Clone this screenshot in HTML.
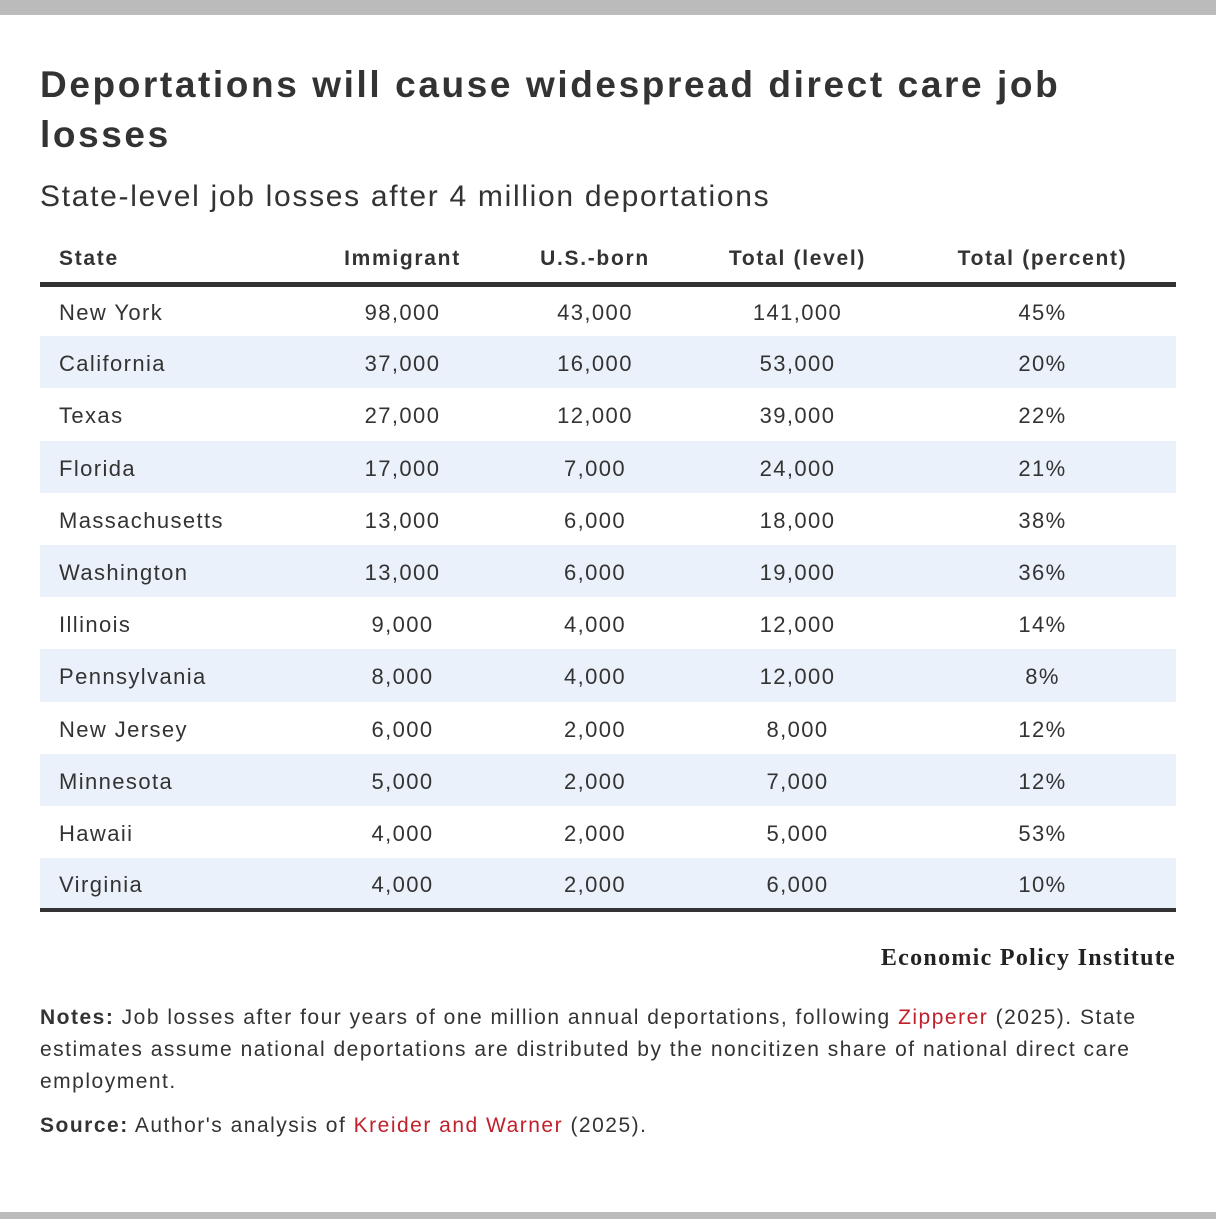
<!DOCTYPE html>
<html><head><meta charset="utf-8"><style>
*{margin:0;padding:0;box-sizing:border-box}
body{width:1216px;height:1219px;background:#fff;position:relative;font-family:"Liberation Sans",sans-serif;color:#333;overflow:hidden}
.bar{position:absolute;left:0;width:1216px;background:#bbb}
.t{position:absolute;left:40px;font-weight:bold;font-size:37px;line-height:50px;color:#333;width:1150px;letter-spacing:2.6px}
.sub{position:absolute;left:40px;top:178px;font-size:30px;line-height:38px;letter-spacing:1.7px}
table{position:absolute;left:40px;top:236px;width:1136px;border-collapse:collapse;font-size:22px;letter-spacing:1.4px}
th{font-weight:bold;height:48px;border-bottom:5px solid #333;font-size:21px;letter-spacing:1.7px;padding-top:1px}
td{height:52.2px;padding-top:4px!important}
th,td{text-align:center;padding:0}
th:last-child,td:last-child{padding-right:26px}
th:first-child,td:first-child{text-align:left;padding-left:19px}
tr.s td{background:#eaf1fa}
tbody tr:last-child td{border-bottom:4px solid #333}
.epi{position:absolute;right:40px;top:945px;font-family:"Liberation Serif",serif;font-weight:bold;font-size:24px;color:#222;letter-spacing:1.3px}
.n{position:absolute;left:40px;width:1176px;font-size:21px;line-height:32px;white-space:nowrap;letter-spacing:1.5px}
.r{color:#c0202a}
</style></head><body>
<div class="bar" style="top:0;height:15px"></div>
<div class="bar" style="top:1212px;height:7px"></div>
<div class="t" style="top:60px">Deportations will cause widespread direct care job<br>losses</div>
<div class="sub">State-level job losses after 4 million deportations</div>
<table>
<thead><tr><th style="width:235px">State</th><th style="width:255px">Immigrant</th><th style="width:130px">U.S.-born</th><th style="width:275px">Total (level)</th><th>Total (percent)</th></tr></thead>
<tbody>
<tr><td>New York</td><td>98,000</td><td>43,000</td><td>141,000</td><td>45%</td></tr>
<tr class="s"><td>California</td><td>37,000</td><td>16,000</td><td>53,000</td><td>20%</td></tr>
<tr><td>Texas</td><td>27,000</td><td>12,000</td><td>39,000</td><td>22%</td></tr>
<tr class="s"><td>Florida</td><td>17,000</td><td>7,000</td><td>24,000</td><td>21%</td></tr>
<tr><td>Massachusetts</td><td>13,000</td><td>6,000</td><td>18,000</td><td>38%</td></tr>
<tr class="s"><td>Washington</td><td>13,000</td><td>6,000</td><td>19,000</td><td>36%</td></tr>
<tr><td>Illinois</td><td>9,000</td><td>4,000</td><td>12,000</td><td>14%</td></tr>
<tr class="s"><td>Pennsylvania</td><td>8,000</td><td>4,000</td><td>12,000</td><td>8%</td></tr>
<tr><td>New Jersey</td><td>6,000</td><td>2,000</td><td>8,000</td><td>12%</td></tr>
<tr class="s"><td>Minnesota</td><td>5,000</td><td>2,000</td><td>7,000</td><td>12%</td></tr>
<tr><td>Hawaii</td><td>4,000</td><td>2,000</td><td>5,000</td><td>53%</td></tr>
<tr class="s"><td>Virginia</td><td>4,000</td><td>2,000</td><td>6,000</td><td>10%</td></tr>
</tbody></table>
<div class="epi">Economic Policy Institute</div>
<div class="n" style="top:1002px"><b>Notes:</b> Job losses after four years of one million annual deportations, following <span class="r">Zipperer</span> (2025). State<br>estimates assume national deportations are distributed by the noncitizen share of national direct care<br>employment.</div>
<div class="n" style="top:1110px"><b>Source:</b> Author's analysis of <span class="r">Kreider and Warner</span> (2025).</div>
</body></html>
